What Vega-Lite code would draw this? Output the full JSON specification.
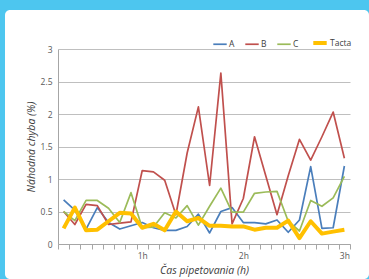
{
  "$schema": "https://vega.github.io/schema/vega-lite/v6.json",
  "width": 364,
  "height": 269,
  "autosize": {"type": "none"},
  "padding": {"left": 5, "top": 10, "right": 0, "bottom": 0},
  "background": "#4DC6EF",
  "view": {"fill": "white", "stroke": null, "cornerRadius": 5},
  "config": {"font": "Open Sans"},
  "data": {
    "values": [
      {"t": 1, "A": 0.68, "B": 0.50, "C": 0.50, "Tacta": 0.24},
      {"t": 2, "A": 0.52, "B": 0.30, "C": 0.36, "Tacta": 0.56},
      {"t": 3, "A": 0.23, "B": 0.61, "C": 0.67, "Tacta": 0.21},
      {"t": 4, "A": 0.56, "B": 0.59, "C": 0.67, "Tacta": 0.22},
      {"t": 5, "A": 0.33, "B": 0.30, "C": 0.55, "Tacta": 0.35},
      {"t": 6, "A": 0.23, "B": 0.32, "C": 0.33, "Tacta": 0.48},
      {"t": 7, "A": 0.28, "B": 0.34, "C": 0.79, "Tacta": 0.47},
      {"t": 8, "A": 0.33, "B": 1.13, "C": 0.25, "Tacta": 0.25},
      {"t": 9, "A": 0.25, "B": 1.11, "C": 0.26, "Tacta": 0.31},
      {"t": 10, "A": 0.21, "B": 0.98, "C": 0.48, "Tacta": 0.21},
      {"t": 11, "A": 0.21, "B": 0.45, "C": 0.40, "Tacta": 0.50},
      {"t": 12, "A": 0.27, "B": 1.40, "C": 0.59, "Tacta": 0.35},
      {"t": 13, "A": 0.46, "B": 2.11, "C": 0.29, "Tacta": 0.40},
      {"t": 14, "A": 0.17, "B": 0.90, "C": 0.58, "Tacta": 0.28},
      {"t": 15, "A": 0.50, "B": 2.63, "C": 0.86, "Tacta": 0.28},
      {"t": 16, "A": 0.56, "B": 0.31, "C": 0.49, "Tacta": 0.27},
      {"t": 17, "A": 0.33, "B": 0.70, "C": 0.49, "Tacta": 0.27},
      {"t": 18, "A": 0.33, "B": 1.65, "C": 0.78, "Tacta": 0.22},
      {"t": 19, "A": 0.31, "B": 1.05, "C": 0.80, "Tacta": 0.25},
      {"t": 20, "A": 0.37, "B": 0.45, "C": 0.81, "Tacta": 0.25},
      {"t": 21, "A": 0.18, "B": 1.05, "C": 0.35, "Tacta": 0.36},
      {"t": 22, "A": 0.37, "B": 1.61, "C": 0.20, "Tacta": 0.09},
      {"t": 23, "A": 1.19, "B": 1.29, "C": 0.67, "Tacta": 0.35},
      {"t": 24, "A": 0.24, "B": 1.65, "C": 0.58, "Tacta": 0.16},
      {"t": 25, "A": 0.25, "B": 2.03, "C": 0.71, "Tacta": 0.19},
      {"t": 26, "A": 1.20, "B": 1.32, "C": 1.04, "Tacta": 0.22}
    ]
  },
  "transform": [{"fold": ["A", "B", "C", "Tacta"], "as": ["series", "value"]}],
  "mark": {"type": "line", "strokeJoin": "round"},
  "encoding": {
    "x": {
      "field": "t",
      "type": "ordinal",
      "scale": {"type": "band", "paddingInner": 0, "paddingOuter": 0, "range": [53, 345]},
      "axis": {
        "offset": -35,
        "tickBand": "extent",
        "labelAngle": 0,
        "labelExpr": "datum.value == 8 ? '1h' : datum.value == 17 ? '2h' : datum.value == 26 ? '3h' : ''",
        "labelFontSize": 8.5,
        "labelColor": "#595959",
        "labelPadding": 2,
        "tickSize": 5,
        "tickColor": "#A6A6A6",
        "domainColor": "#A6A6A6",
        "grid": false,
        "title": "Čas pipetovania (h)",
        "titleFontStyle": "italic",
        "titleFontWeight": "normal",
        "titleFontSize": 10.5,
        "titleColor": "#404040",
        "titlePadding": 6
      }
    },
    "y": {
      "field": "value",
      "type": "quantitative",
      "scale": {"domain": [0, 3], "nice": false, "range": [234, 39]},
      "axis": {
        "offset": -53,
        "values": [0, 0.5, 1, 1.5, 2, 2.5, 3],
        "format": "~g",
        "ticks": false,
        "labelFontSize": 8.5,
        "labelColor": "#595959",
        "labelPadding": 6,
        "grid": true,
        "gridColor": "#BFBFBF",
        "domainColor": "#A6A6A6",
        "title": "Náhodná chyba (%)",
        "titleFontStyle": "italic",
        "titleFontWeight": "normal",
        "titleFontSize": 10.5,
        "titleColor": "#404040",
        "titlePadding": 4
      }
    },
    "color": {
      "field": "series",
      "type": "nominal",
      "scale": {"domain": ["A", "B", "C", "Tacta"], "range": ["#4A7EBB", "#C0504D", "#9BBB59", "#FFC000"]},
      "legend": {
        "orient": "none",
        "legendX": 207,
        "legendY": 24,
        "direction": "horizontal",
        "title": null,
        "symbolType": "stroke",
        "symbolSize": 180,
        "labelFontSize": 8.5,
        "labelColor": "#404040",
        "labelOffset": 1,
        "columnPadding": 6
      }
    },
    "strokeWidth": {
      "field": "series",
      "type": "nominal",
      "scale": {"type": "ordinal", "domain": ["A", "B", "C", "Tacta"], "range": [1.7, 1.7, 1.7, 4]},
      "legend": {
        "orient": "none",
        "legendX": 207,
        "legendY": 24,
        "direction": "horizontal",
        "title": null,
        "symbolType": "stroke",
        "symbolSize": 180,
        "labelFontSize": 8.5,
        "labelColor": "#404040",
        "labelOffset": 1,
        "columnPadding": 6
      }
    }
  }
}
